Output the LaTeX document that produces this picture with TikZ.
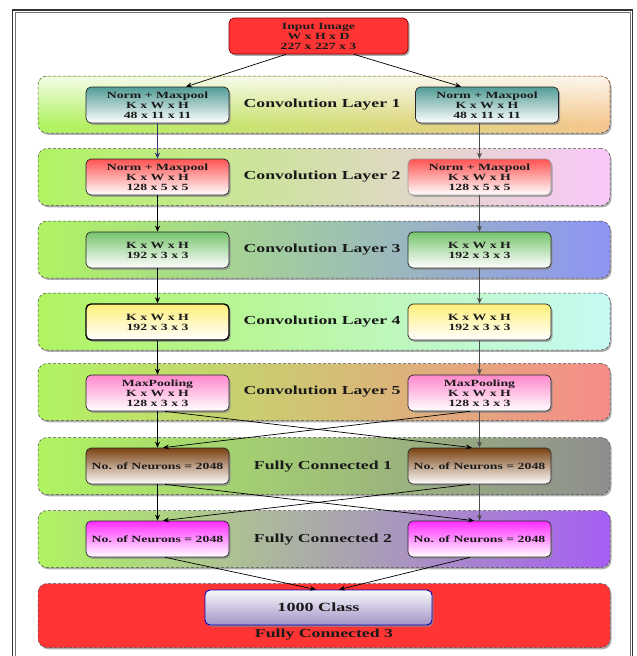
\documentclass[tikz,border=0pt]{standalone}
\usepackage{fontspec}
\setmainfont{Liberation Serif}[FakeStretch=1.45]
\usetikzlibrary{shadows,fadings,arrows.meta}

\definecolor{lime}{HTML}{B0F462}
\definecolor{peach}{HTML}{F6C690}
\definecolor{pinkl}{HTML}{FAC8FA}
\definecolor{bluev}{HTML}{8E94F4}
\definecolor{cyanl}{HTML}{C6FAF4}
\definecolor{salmon}{HTML}{F68C88}
\definecolor{greyr}{HTML}{8E8E8E}
\definecolor{purp}{HTML}{A65EF4}
\definecolor{redf}{HTML}{FF3434}
\definecolor{teal1}{HTML}{529C96}
\definecolor{red2}{HTML}{FF5252}
\definecolor{green3}{HTML}{78C46E}
\definecolor{yell4}{HTML}{FFF07A}
\definecolor{pink5}{HTML}{FF88CC}
\definecolor{brown6}{HTML}{7A4212}
\definecolor{mag7}{HTML}{FF2CFF}
\definecolor{lav}{HTML}{A293C6}
\definecolor{inkc}{HTML}{1A1A1A}

\begin{document}
\begin{tikzpicture}[x=1pt,y=-1pt,
  band/.style={draw=black!70, densely dashed, line width=0.5pt,
    rounded corners=9pt, minimum width=572pt, minimum height=57pt, inner sep=0pt,
    drop shadow={shadow xshift=1.5pt, shadow yshift=-1.8pt, fill=black!45, opacity=0.7}},
  box/.style={draw=black!85, solid, line width=0.7pt, rounded corners=5pt,
    minimum width=143pt, minimum height=36pt, inner sep=1pt, align=center,
    text=inkc, font=\bfseries\fontsize{9.5}{10}\selectfont,
    drop shadow={shadow xshift=1.6pt, shadow yshift=-1.8pt, fill=black!45, opacity=0.7}},
  grad/.style={top color=#1, bottom color=white},
  lbl/.style={text=inkc, font=\bfseries\fontsize{12.25}{14}\selectfont, inner sep=0pt},
  arr/.style={-{Stealth[length=6pt,width=5pt]}, line width=0.7pt, draw=black},
  arrg/.style={arr, draw=black!70},
]
\useasboundingbox (0,0) rectangle (637,656);
\clip (0,0) rectangle (637,656);
\fill[white] (0,0) rectangle (637,656);

% outer double frame
\draw[line width=1.5pt, draw=black!80] (12.5,10) rectangle (632.5,700);
\draw[line width=0.8pt, draw=black!55] (15.5,12.5) rectangle (630,700);

% layer bands (the first one gets a soft white sheen along its top)
\node[band, left color=lime, right color=peach]  (b1) at (324,104.5) {};
\fill[white, path fading=south, opacity=0.85, rounded corners=9pt] (38.5,76.5) rectangle (609.5,124);
\node[band, left color=lime, right color=pinkl]  (b2) at (324,177) {};
\node[band, left color=lime, right color=bluev]  (b3) at (324,249.5) {};
\node[band, left color=lime, right color=cyanl]  (b4) at (324,321.5) {};
\node[band, left color=lime, right color=salmon] (b5) at (324,392) {};
\node[band, left color=lime, right color=greyr]  (b6) at (324,466) {};
\node[band, left color=lime, right color=purp]   (b7) at (324,539) {};
\node[band, fill=redf, minimum height=64pt]      (b8) at (324,615.5) {};

% input
\node[box, fill=redf, draw=red!50!black, minimum width=179pt] (in) at (318.5,36)
  {Input Image\\W x H x D\\227 x 227 x 3};

% convolution layer 1
\node[box, grad=teal1] (c1l) at (157.5,105) {Norm + Maxpool\\K x W x H\\48 x 11 x 11};
\node[box, grad=teal1] (c1r) at (487,105)   {Norm + Maxpool\\K x W x H\\48 x 11 x 11};
\node[lbl] (t1) at (322,105) {Convolution Layer 1};

% convolution layer 2
\node[box, grad=red2] (c2l) at (157.5,177) {Norm + Maxpool\\K x W x H\\128 x 5 x 5};
\node[box, grad=red2, draw=black!40] (c2r) at (479.5,177) {Norm + Maxpool\\K x W x H\\128 x 5 x 5};
\node[lbl] (t2) at (322,177) {Convolution Layer 2};

% convolution layer 3
\node[box, grad=green3] (c3l) at (157.5,250) {K x W x H\\192 x 3 x 3};
\node[box, grad=green3] (c3r) at (479.5,250) {K x W x H\\192 x 3 x 3};
\node[lbl] (t3) at (322,250) {Convolution Layer 3};

% convolution layer 4
\node[box, grad=yell4, line width=1.4pt, draw=black] (c4l) at (157.5,322) {K x W x H\\192 x 3 x 3};
\node[box, grad=yell4] (c4r) at (479.5,322) {K x W x H\\192 x 3 x 3};
\node[lbl] (t4) at (322,322) {Convolution Layer 4};

% convolution layer 5
\node[box, grad=pink5] (c5l) at (157.5,393) {MaxPooling\\K x W x H\\128 x 3 x 3};
\node[box, grad=pink5] (c5r) at (479.5,393) {MaxPooling\\K x W x H\\128 x 3 x 3};
\node[lbl] (t5) at (322,392) {Convolution Layer 5};

% fully connected 1
\node[box, grad=brown6] (f1l) at (157.5,466) {No. of Neurons = 2048};
\node[box, grad=brown6] (f1r) at (479.5,466) {No. of Neurons = 2048};
\node[lbl] (t6) at (323,467) {Fully Connected 1};

% fully connected 2
\node[box, grad=mag7] (f2l) at (157.5,539) {No. of Neurons = 2048};
\node[box, grad=mag7] (f2r) at (479.5,539) {No. of Neurons = 2048};
\node[lbl] (t7) at (323,540) {Fully Connected 2};

% fully connected 3
\node[box, top color=white!94!lav, bottom color=lav, draw=blue!75!black, line width=0.9pt,
  minimum width=227pt, minimum height=35pt, font=\bfseries\fontsize{12.5}{14}\selectfont]
  (out) at (318.5,607.5) {1000 Class};
\node[lbl] (t8) at (324,635) {Fully Connected 3};

% connectors
\draw[arr] ([xshift=-32.5pt]in.south) -- ([xshift=28.5pt]c1l.north);
\draw[arr] ([xshift=35.5pt]in.south) -- ([xshift=-26pt]c1r.north);

\draw[arr, draw=blue!30!black!80] (c1l.south) -- (c2l.north);
\draw[arrg] ([xshift=-7.5pt]c1r.south) -- (c2r.north);
\draw[arr]  (c2l.south) -- (c3l.north);
\draw[arrg] (c2r.south) -- (c3r.north);
\draw[arr]  (c3l.south) -- (c4l.north);
\draw[arrg] (c3r.south) -- (c4r.north);
\draw[arr]  (c4l.south) -- (c5l.north);
\draw[arrg] (c4r.south) -- (c5r.north);

\draw[arr]  (c5l.south) -- (f1l.north);
\draw[arrg] (c5r.south) -- (f1r.north);
\draw[arr]  ([xshift=7.5pt]c5l.south) -- ([xshift=-7.5pt]f1r.north);
\draw[arr]  ([xshift=-9.5pt]c5r.south) -- ([xshift=5.5pt]f1l.north);

\draw[arr]  (f1l.south) -- (f2l.north);
\draw[arrg] (f1r.south) -- (f2r.north);
\draw[arr]  ([xshift=7.5pt]f1l.south) -- ([xshift=-5.5pt]f2r.north);
\draw[arr]  ([xshift=-9.5pt]f1r.south) -- ([xshift=5.5pt]f2l.north);

\draw[arr] ([xshift=7.5pt]f2l.south) -- ([xshift=-2.5pt]out.north);
\draw[arr] ([xshift=-9.5pt]f2r.south) -- ([xshift=20.5pt]out.north);
\end{tikzpicture}
\end{document}
